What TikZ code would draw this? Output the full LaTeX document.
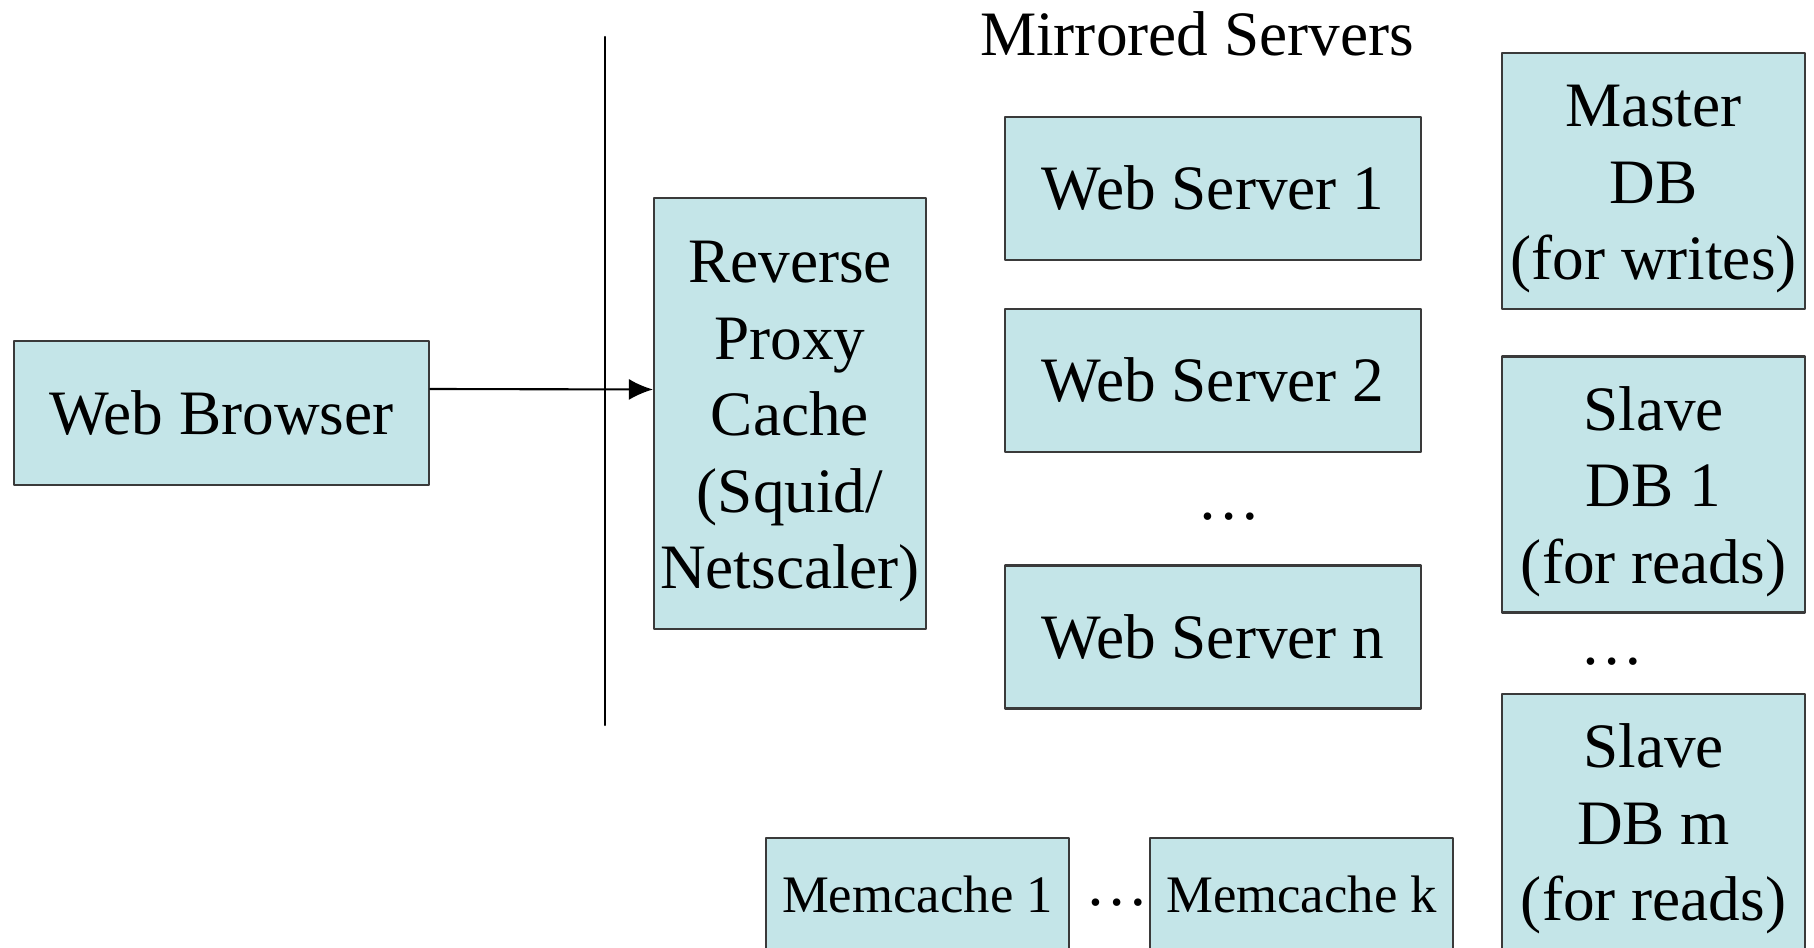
\documentclass[tikz,border=0pt]{standalone}
\usepackage{fontspec}
\setmainfont{Liberation Serif}
\usetikzlibrary{arrows.meta}
\definecolor{FigureCyan}{HTML}{C4E5E8}
\definecolor{FigureEdge}{HTML}{3A3A3A}
\newcommand{\topgap}{\rule{0pt}{16.5pt}}

\begin{document}
\begin{tikzpicture}[line cap=round,line join=round,line width=0.6pt,
  box/.style={draw=FigureEdge,fill=FigureCyan,inner sep=0pt,align=center,font=\fontsize{18}{21.8}\selectfont},
  srv/.style={box,minimum width=4.16cm,minimum height=1.43cm},
  db/.style={box,minimum width=3.03cm,minimum height=2.56cm},
  mem/.style={box,minimum width=3.03cm,minimum height=1.12cm,font=\fontsize{15}{18}\selectfont},
  big/.style={font=\fontsize{18}{21.8}\selectfont,inner sep=0pt}]
  \useasboundingbox (0,0) rectangle (18.14,-9.48);
  \node[box,minimum width=4.15cm,minimum height=1.44cm] (B) at (2.215,-4.13) {Web Browser};
  \node[box,minimum width=2.72cm,minimum height=4.31cm] (P) at (7.90,-4.135) {\topgap Reverse\\Proxy\\Cache\\(Squid/\\Netscaler)};
  \coordinate (T) at (6.05,-0.37);\coordinate (U) at (6.05,-7.25);
  \draw (T)--(U);
  \draw[-{Latex[length=2.4mm,width=2.1mm]}] ([yshift=2.4mm]B.east)--([yshift=2.4mm]P.west);
  \node[big,anchor=base] (M) at (11.97,-0.555) {Mirrored Servers};
  \node[srv] (S1) at (12.13,-1.885) {Web Server 1};
  \node[srv] (S2) at (12.13,-3.805) {Web Server 2};
  \node[big,anchor=base] (SD) at (12.29,-5.20) {\dots};
  \node[srv] (Sn) at (12.13,-6.37) {Web Server n};
  \node[db] (D0) at (16.535,-1.81) {\topgap Master\\DB\\(for writes)};
  \node[db] (D1) at (16.535,-4.845) {\topgap Slave\\DB 1\\(for reads)};
  \node[big,anchor=base] (DD) at (16.12,-6.65) {\dots};
  \node[db] (Dm) at (16.535,-8.22) {\topgap Slave\\DB m\\(for reads)};
  \node[mem] (C1) at (9.175,-8.94) {Memcache 1};
  \node[big,anchor=base] (CD) at (11.17,-9.05) {\dots};
  \node[mem] (Ck) at (13.015,-8.94) {Memcache k};
\end{tikzpicture}
\end{document}
